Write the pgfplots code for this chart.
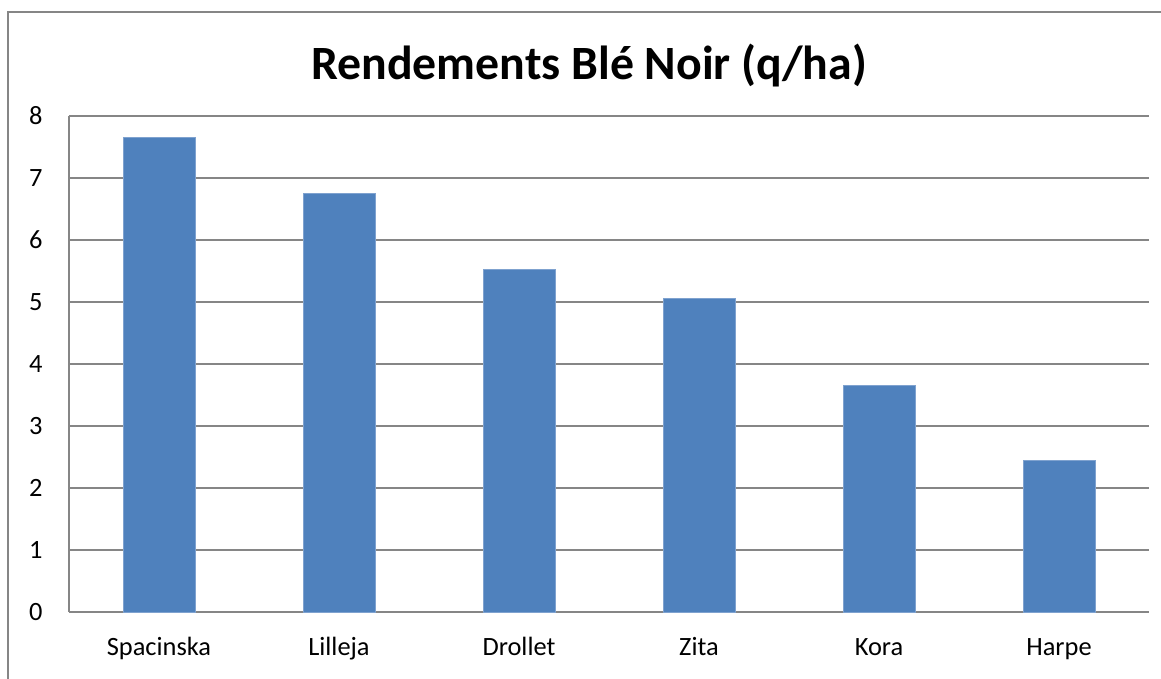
\documentclass[border=0pt]{standalone}
\usepackage{pgfplots}
\pgfplotsset{compat=1.18}
\usepackage{fontspec}
\setmainfont{Carlito}
\definecolor{barblue}{HTML}{4F81BD}
\definecolor{baredge}{HTML}{7FA2CF}
\definecolor{gridgray}{HTML}{868686}
\begin{document}
\begin{tikzpicture}
\path[use as bounding box] (0,0) rectangle (580.5pt,-339.5pt);
\draw[gridgray, line width=0.8pt] (4pt,-345pt) -- (4pt,-6pt) -- (590pt,-6pt);
\node[anchor=base, font=\fontsize{23.9}{28}\selectfont\bfseries, inner sep=0pt] at (294.5pt,-40pt) {Rendements Blé Noir (q/ha)};
\begin{axis}[
  at={(34.5pt,-306pt)}, anchor=south west,
  scale only axis, width=540pt, height=248pt,
  xmin=-0.5, xmax=5.5, ymin=0, ymax=8,
  xtick=data,
  xticklabels={Spacinska,Lilleja,Drollet,Zita,Kora,Harpe},
  ytick={0,1,...,8},
  major tick length=0pt,
  axis x line*=bottom, axis y line*=left,
  axis line style={gridgray, line width=0.6pt},
  ymajorgrids, grid style={gridgray, line width=0.6pt},
  tick label style={font=\fontsize{13.2}{16}\selectfont, inner sep=0pt},
  yticklabel style={anchor=east, xshift=-13pt},
  xticklabel style={anchor=base, yshift=-21.5pt},
  /pgf/number format/assume math mode=true,
  ybar, bar width=36pt,
  x axis line style={-}, y axis line style={-},
]
\addplot[fill=barblue, draw=baredge, line width=0.4pt] coordinates {(0,7.66) (1,6.75) (2,5.53) (3,5.06) (4,3.66) (5,2.45)};
\end{axis}
\end{tikzpicture}
\end{document}
